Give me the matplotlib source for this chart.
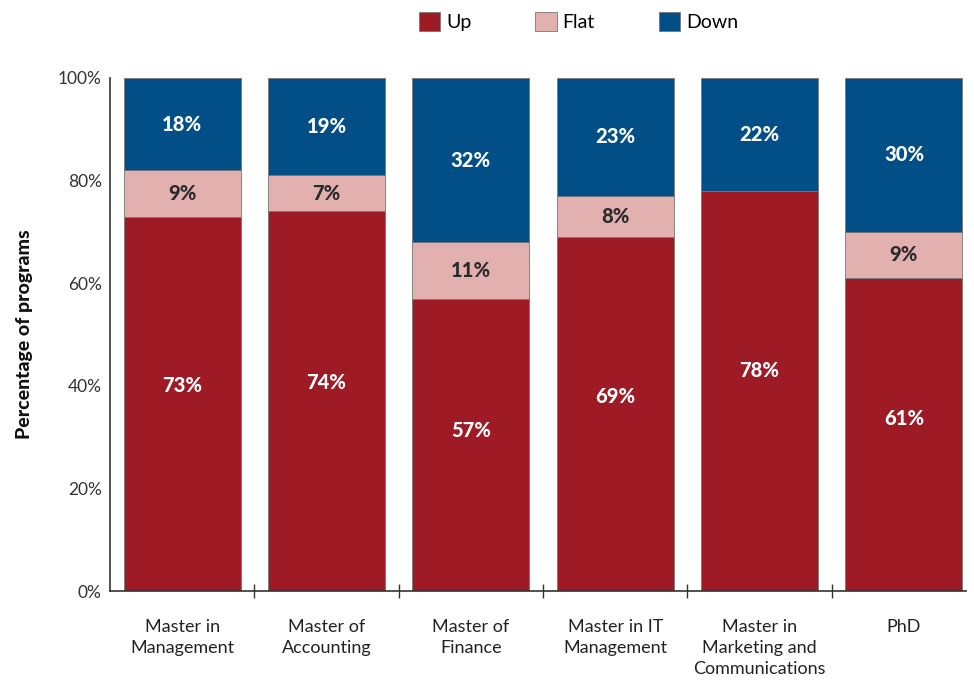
import numpy as np
import matplotlib
matplotlib.use('Agg')
import matplotlib.pyplot as plt

programs = ['Master in\nManagement', 'Master of\nAccounting', 'Master of\nFinance',
            'Master in IT\nManagement', 'Master in\nMarketing and\nCommunications', 'PhD']
up = [73, 74, 57, 69, 78, 61]
flat = [9, 7, 11, 8, 0, 9]
down = [18, 19, 32, 23, 22, 30]

c_up = '#9e1a25'
c_flat = '#e3b0b0'
c_down = '#024f88'

plt.rcParams['font.family'] = ['Lato', 'DejaVu Sans']

fig = plt.figure(figsize=(9.74, 6.8), dpi=100)
ax = fig.add_axes([110 / 974, 89 / 680, 856 / 974, 513 / 680])

x = np.arange(len(programs))
w = 0.81
up = np.array(up)
flat = np.array(flat)
down = np.array(down)

ax.bar(x, up, w, color=c_up, edgecolor='#777777', linewidth=0.6, label='Up')
ax.bar(x, flat, w, bottom=up, color=c_flat, edgecolor='#777777', linewidth=0.6, label='Flat')
ax.bar(x, down, w, bottom=up + flat, color=c_down, edgecolor='#777777', linewidth=0.6, label='Down')

# value labels inside each segment
for i in range(len(programs)):
    ax.text(x[i], up[i] * 0.55, '%d%%' % up[i], ha='center', va='center',
            color='white', fontsize=14.5, fontweight='black')
    if flat[i] > 0:
        ax.text(x[i], up[i] + flat[i] / 2, '%d%%' % flat[i], ha='center', va='center',
                color='#2a2a2a', fontsize=14.5, fontweight='black')
    ax.text(x[i], up[i] + flat[i] + down[i] / 2, '%d%%' % down[i], ha='center', va='center',
            color='white', fontsize=14.5, fontweight='black')

ax.set_xlim(-0.5, 5.43)
ax.set_ylim(0, 100)
ax.set_yticks([0, 20, 40, 60, 80, 100])
ax.set_yticklabels(['0%', '20%', '40%', '60%', '80%', '100%'])
ax.set_xticks(x)
ax.set_xticklabels(programs, linespacing=1.4)
ax.set_xticks(x[:-1] + 0.5, minor=True)
ax.tick_params(axis='x', which='major', length=0, pad=20, labelsize=13, colors='#222222')
ax.tick_params(axis='x', which='minor', length=10, direction='inout', width=1, color='#333333')
ax.tick_params(axis='y', length=0, pad=6, labelsize=12.5, colors='#333333')

for s in ['top', 'right']:
    ax.spines[s].set_visible(False)
for s in ['left', 'bottom']:
    ax.spines[s].set_color('#333333')
    ax.spines[s].set_linewidth(1.2)

ax.set_ylabel('Percentage of programs', fontsize=14, fontweight='black', color='#111111', labelpad=18)

fig.legend(loc='upper center', bbox_to_anchor=(0.594, 1.008), ncol=3, frameon=False,
           fontsize=14, columnspacing=3.3, handlelength=1.1, handleheight=1.1,
           handletextpad=0.3)

fig.savefig('out.png', dpi=100)
